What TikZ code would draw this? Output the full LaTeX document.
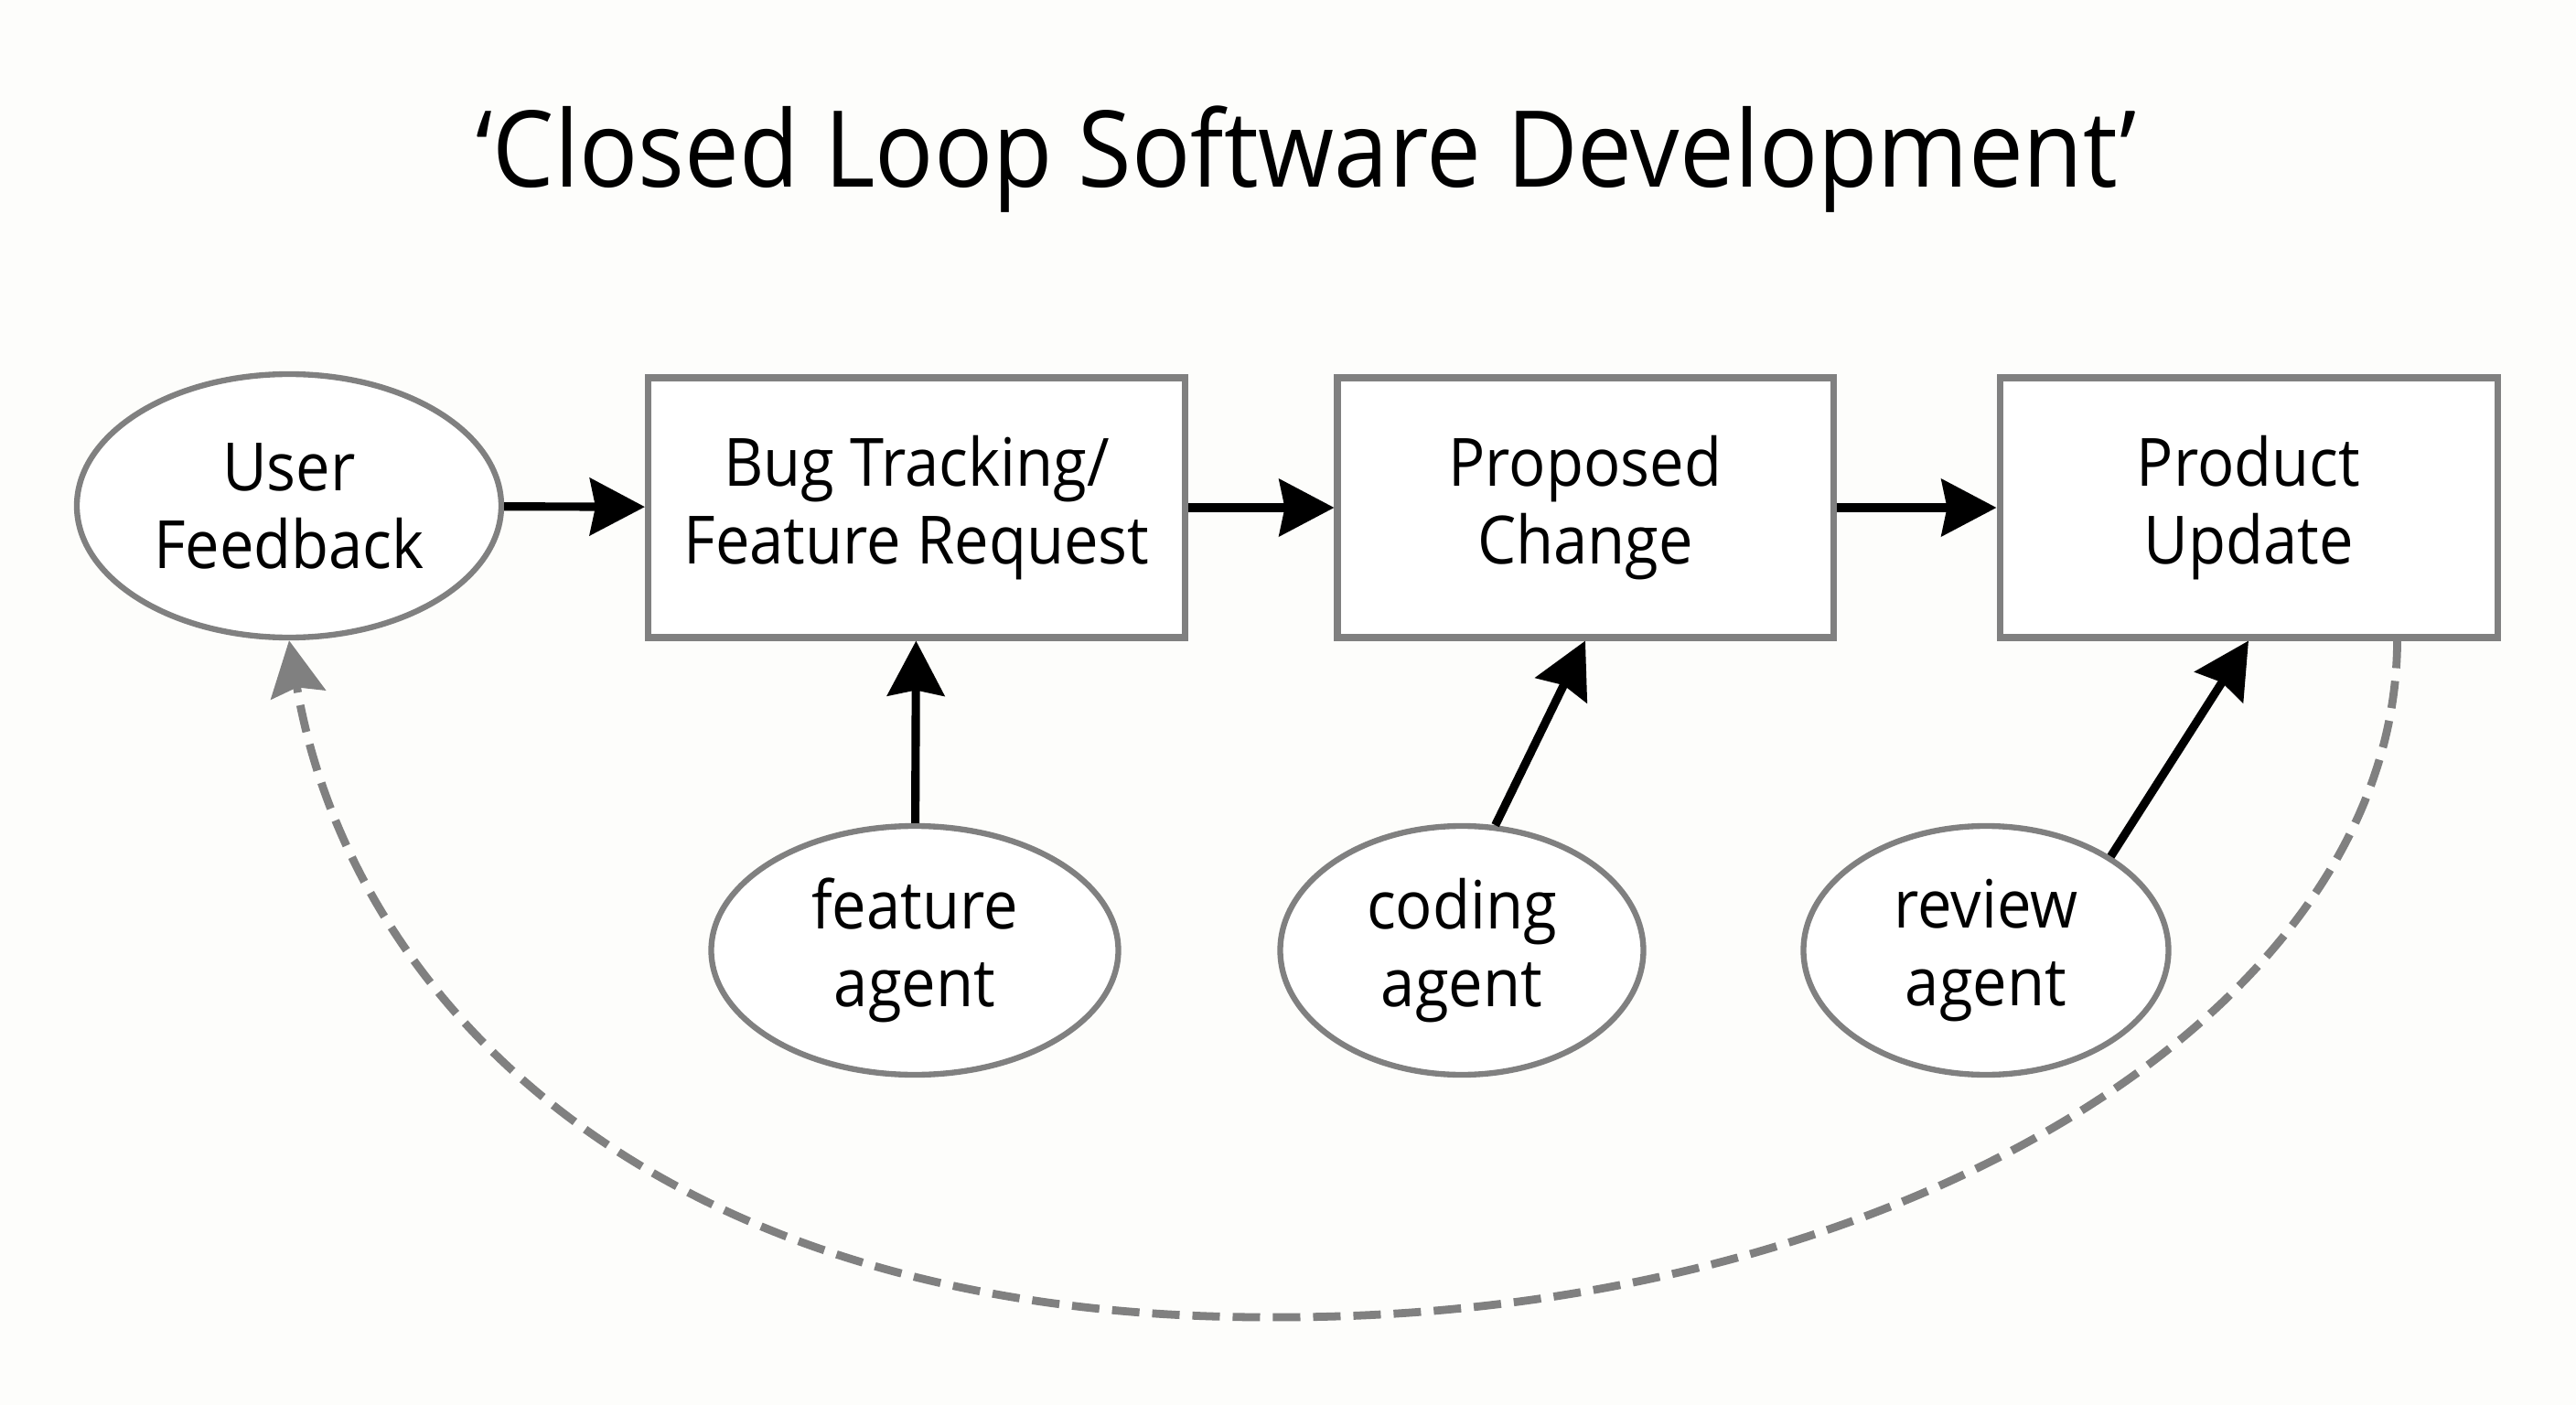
\documentclass[tikz,border=0pt]{standalone}
\usepackage{fontspec}
\setmainfont{Open Sans}[FakeStretch=0.92]
\usetikzlibrary{shapes.geometric,arrows.meta,calc}
\definecolor{edgegray}{RGB}{128,128,128}
\definecolor{paper}{RGB}{253,253,251}
\begin{document}
\begin{tikzpicture}[
  stage/.style={draw=edgegray, line width=2pt, fill=white, minimum height=2.84cm, inner sep=0pt, align=center, font=\fontsize{20.7}{24.2}\selectfont},
  agent/.style={ellipse, draw=edgegray, line width=1.8pt, fill=white, minimum height=2.72cm, inner sep=0pt, align=center, font=\fontsize{20.7}{24.2}\selectfont},
  flow/.style={line width=2.6pt, -{Stealth[length=0.6cm, width=0.62cm, inset=0.06cm]}},
  loopback/.style={draw=edgegray, line width=2.5pt, dash pattern=on 0.3cm off 0.14cm, -{Stealth[length=0.6cm, width=0.6cm, inset=0.08cm, fill=edgegray]}}
]
  \useasboundingbox (0,0) rectangle (28.16,-15.36);
  \fill[paper] (0,0) rectangle (28.16,-15.36);
  \node[anchor=base, font=\fontsize{33}{40}\selectfont] (title) at (14.28,-2.05) {‘Closed Loop Software Development’};
  \node[agent, minimum width=4.64cm, minimum height=2.88cm] (feedback) at (3.16,-5.53) {User\\Feedback};
  \node[stage, minimum width=5.87cm] (tracking) at (10.02,-5.55) {Bug Tracking/\\Feature Request};
  \node[stage, minimum width=5.42cm] (change) at (17.33,-5.55) {Proposed\\Change};
  \node[stage, minimum width=5.44cm] (update) at (24.58,-5.55) {Product\\Update};
  \node[agent, minimum width=4.45cm] (featagent) at (10.00,-10.39) {feature\\agent};
  \node[agent, minimum width=3.97cm] (codeagent) at (15.98,-10.39) {coding\\agent};
  \node[agent, minimum width=3.99cm] (revagent) at (21.71,-10.39) {review\\agent};
  \draw[flow] (feedback) -- (tracking);
  \draw[flow] (tracking) -- (change);
  \draw[flow] (change) -- (update);
  \draw[flow] (featagent) -- (tracking);
  \draw[flow] (codeagent.75) -- (change.south);
  \draw[flow] (revagent.37) -- (update.south);
  \draw[loopback] ($(update.south west)!0.795!(update.south east)$) .. controls (26.19,-11.06) and (20.73,-14.40) .. (14.00,-14.40)
    .. controls (7.00,-14.45) and (3.80,-10.80) .. (feedback.south);
\end{tikzpicture}
\end{document}
